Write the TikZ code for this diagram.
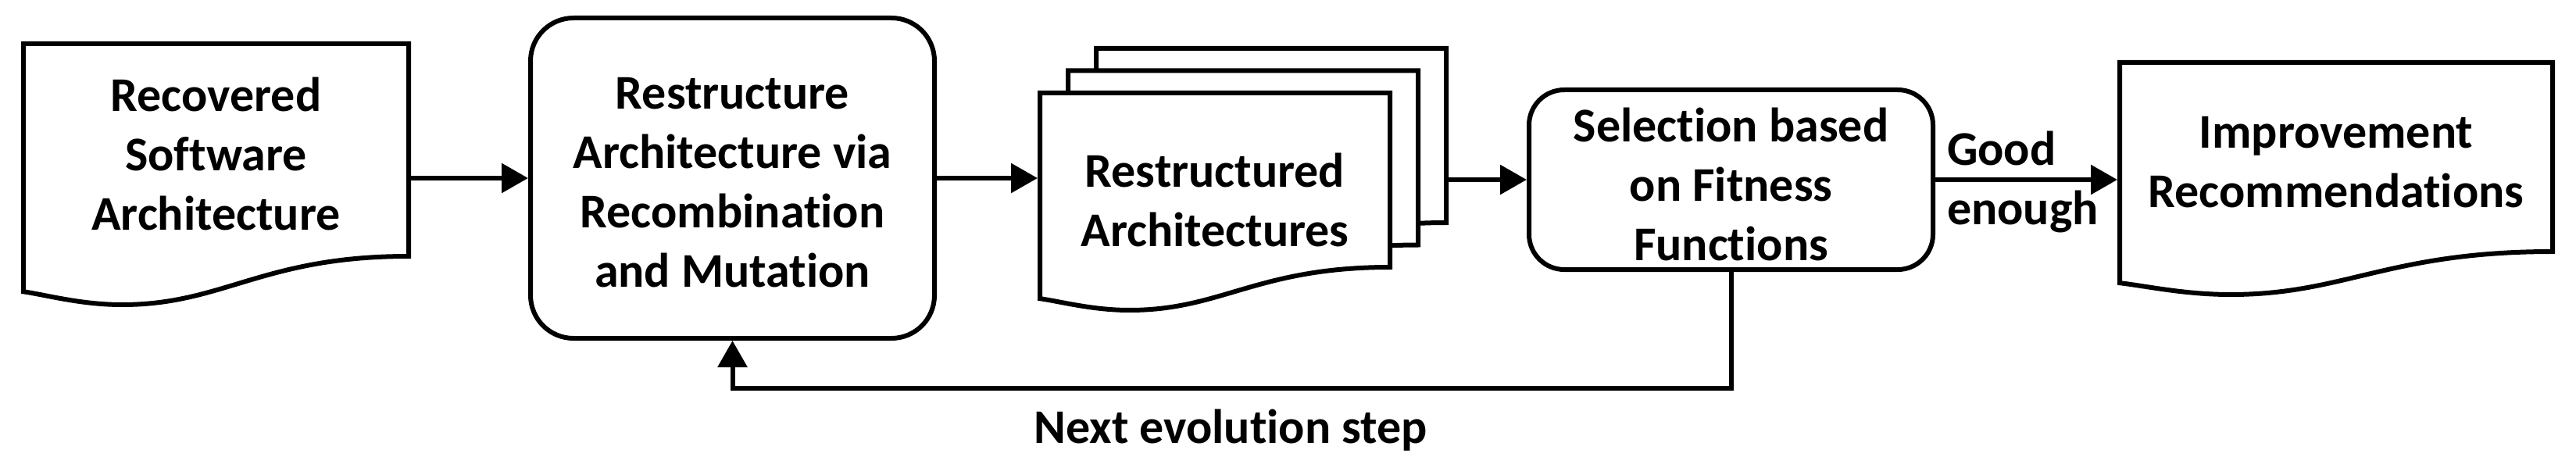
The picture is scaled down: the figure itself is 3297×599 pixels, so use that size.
\documentclass[tikz,border=0pt]{standalone}
\usepackage{fontspec}
\setmainfont{Carlito}[Ligatures=NoCommon]
\usetikzlibrary{arrows.meta,fit,calc}
% document shape: left, top, right, bottom-right, wave depth
\newcommand\docpath[5]{%
  \path[docline] (#1,#2) -- (#3,#2) -- (#3,#4)
   .. controls ({#1+0.62*(#3-#1)},#4) and ({#1+0.52*(#3-#1)},{#4+#5}) .. ({#1+0.256*(#3-#1)},{#4+#5})
   .. controls ({#1+0.15*(#3-#1)},{#4+#5}) and ({#1+0.06*(#3-#1)},{#4+0.8*#5}) .. (#1,{#4+0.73*#5}) -- cycle;}
\begin{document}
\begin{tikzpicture}[x=0.25pt, y=-0.25pt,
  lw/.style={line width=1.5pt},
  txt/.style={font=\bfseries\fontsize{15.5pt}{19pt}\selectfont, align=center, inner sep=0pt, outer sep=0pt},
  frame/.style={inner sep=0pt, outer sep=0.75pt},
  rbox/.style={frame, draw, lw, rounded corners=#1},
  arr/.style={lw, -{Triangle[length=8.5pt,width=9.25pt]}},
  docline/.style={draw, lw, fill=white, line join=miter}]
\useasboundingbox (0,0) rectangle (3297,599);
% document shapes
\docpath{30}{56}{523}{328}{62}
\docpath{1403}{62}{1851}{285}{55}
\docpath{1367}{90.5}{1815}{313.5}{55}
\docpath{1331}{119}{1779}{342}{55}
\docpath{2713}{80}{3267}{322}{55}
% frame nodes
\node[frame, fit={(30,56)(523,328)}] (rec) {};
\node[rbox=13.75pt, fit={(679,23)(1196,433)}] (res) {};
\node[frame, fit={(1403,62)(1851,285)}] (stkb) {};
\node[frame, fit={(1367,90.5)(1815,313.5)}] (stkm) {};
\node[frame, fit={(1331,119)(1779,342)}] (stk) {};
\node[rbox=11.25pt, fit={(1957,115)(2474,345)}] (sel) {};
\node[frame, fit={(2713,80)(3267,322)}] (imp) {};
% texts
\node[txt] (rect) at (276.5,197) {Recovered\\Software\\Architecture};
\node[txt] (rest) at (937.5,234) {Restructure\\Architecture via\\Recombination\\and Mutation};
\node[txt] (stkt) at (1555,256) {Restructured\\Architectures};
\node[txt] (selt) at (2215.5,236) {Selection based\\on Fitness\\Functions};
\node[txt] (impt) at (2990,207.5) {Improvement\\Recommendations};
\node[txt, align=left, anchor=west] (good) at (2492,232.5) {Good\\enough};
\node[txt] (nes) at (1575,551) {Next evolution step};
\coordinate (fbr) at (2215.5,497);
% connectors
\draw[arr] (rec.east |- res.west) -- (res.west);
\draw[arr] (res.east) -- (res.east -| stk.west);
\draw[arr] (stkb.east |- sel.west) -- (sel.west);
\draw[arr] (sel.east) -- (sel.east -| imp.west);
\draw[arr] (sel.south) -- (fbr) -| (res.south);
\end{tikzpicture}
\end{document}
